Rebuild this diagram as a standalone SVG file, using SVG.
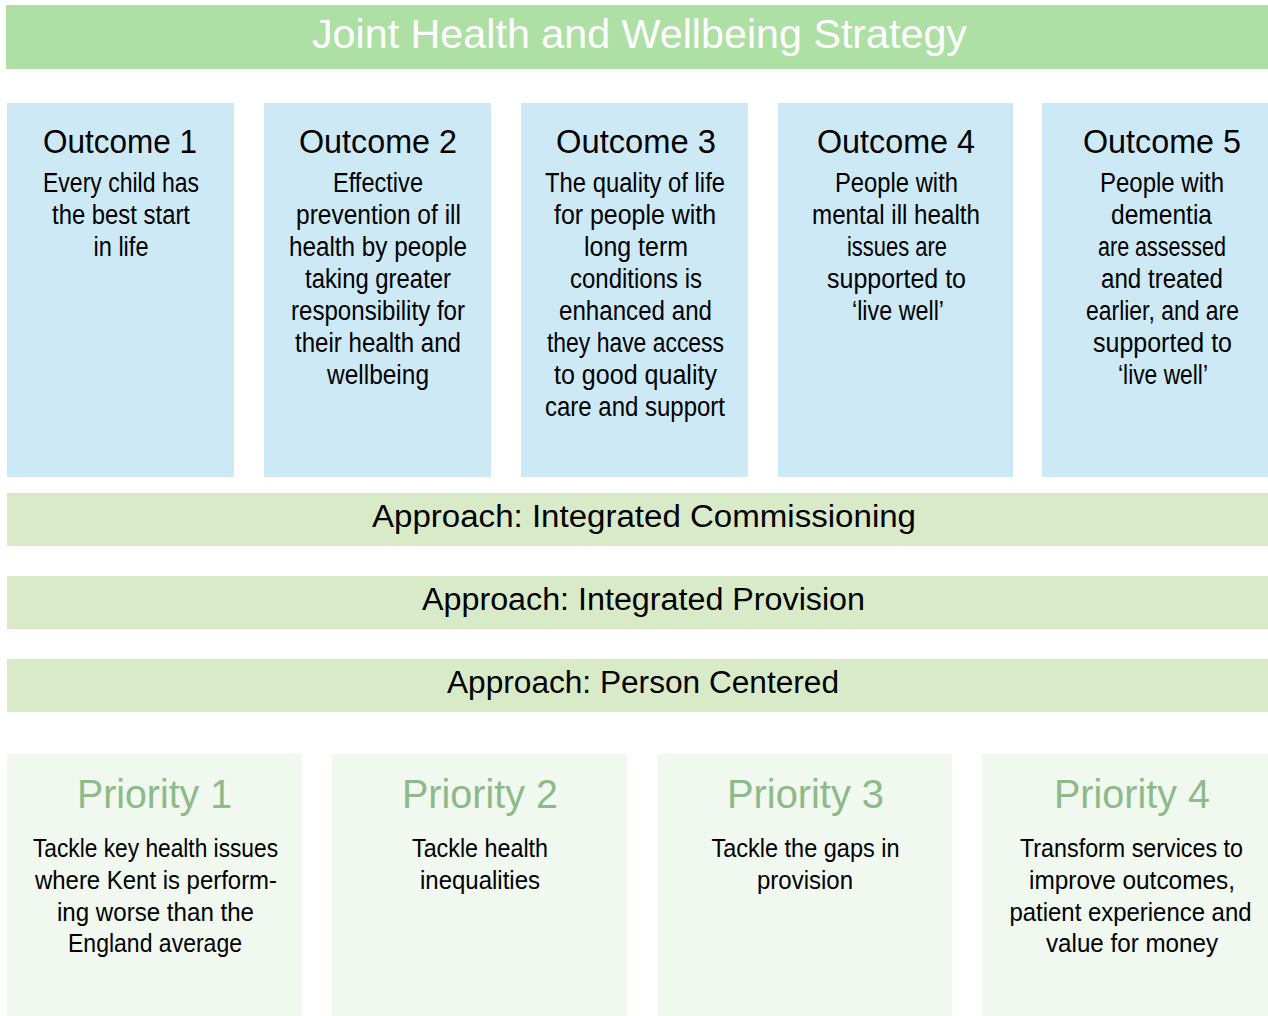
<svg xmlns="http://www.w3.org/2000/svg" width="1268" height="1016" viewBox="0 0 1268 1016">
<style>
text{font-family:"Liberation Sans",Arial,sans-serif;text-anchor:middle;}
.title{fill:#ffffff;font-size:41px;}
.oc{fill:#cde9f6;}
.ap{fill:#d9eac9;}
.pr{fill:#f0f8ef;}
.oh{fill:#000;font-size:34px;}
.ob{fill:#000;font-size:27px;}
.at{fill:#000;font-size:31px;}
.ph{fill:#8dba88;font-size:40px;}
.pb{fill:#000;font-size:26px;}
</style>
<rect width="1268" height="1016" fill="#ffffff"/>
<g id="title">
<rect x="6" y="5" width="1262" height="64" fill="#aee0a5"/>
<text class="title" x="639.5" y="48" textLength="655" lengthAdjust="spacingAndGlyphs">Joint Health and Wellbeing Strategy</text>
</g>
<g id="outcome1">
<rect class="oc" x="7" y="103" width="227" height="374"/>
<text class="oh" x="120" y="153" textLength="154" lengthAdjust="spacingAndGlyphs">Outcome  1</text>
<text class="ob" x="121" y="192" textLength="156" lengthAdjust="spacingAndGlyphs">Every child  has</text>
<text class="ob" x="121" y="224" textLength="138" lengthAdjust="spacingAndGlyphs">the best start</text>
<text class="ob" x="121" y="256" textLength="55" lengthAdjust="spacingAndGlyphs">in life</text>
</g>
<g id="outcome2">
<rect class="oc" x="264" y="103" width="227" height="374"/>
<text class="oh" x="378" y="153" textLength="158" lengthAdjust="spacingAndGlyphs">Outcome  2</text>
<text class="ob" x="378" y="192" textLength="90" lengthAdjust="spacingAndGlyphs">Effective</text>
<text class="ob" x="378.5" y="224" textLength="165" lengthAdjust="spacingAndGlyphs">prevention of ill</text>
<text class="ob" x="378" y="256" textLength="178" lengthAdjust="spacingAndGlyphs">health by people</text>
<text class="ob" x="378" y="288" textLength="146" lengthAdjust="spacingAndGlyphs">taking greater</text>
<text class="ob" x="378" y="320" textLength="174" lengthAdjust="spacingAndGlyphs">responsibility for</text>
<text class="ob" x="378" y="352" textLength="166" lengthAdjust="spacingAndGlyphs">their health and</text>
<text class="ob" x="378" y="384" textLength="102" lengthAdjust="spacingAndGlyphs">wellbeing</text>
</g>
<g id="outcome3">
<rect class="oc" x="521" y="103" width="227" height="374"/>
<text class="oh" x="636" y="153" textLength="160" lengthAdjust="spacingAndGlyphs">Outcome  3</text>
<text class="ob" x="635" y="192" textLength="180" lengthAdjust="spacingAndGlyphs">The quality  of life</text>
<text class="ob" x="635" y="224" textLength="162" lengthAdjust="spacingAndGlyphs">for people with</text>
<text class="ob" x="636" y="256" textLength="104" lengthAdjust="spacingAndGlyphs">long term</text>
<text class="ob" x="636" y="288" textLength="132" lengthAdjust="spacingAndGlyphs">conditions is</text>
<text class="ob" x="635.5" y="320" textLength="153" lengthAdjust="spacingAndGlyphs">enhanced and</text>
<text class="ob" x="635.5" y="352" textLength="177" lengthAdjust="spacingAndGlyphs">they  have  access</text>
<text class="ob" x="635.5" y="384" textLength="163" lengthAdjust="spacingAndGlyphs">to good quality</text>
<text class="ob" x="635" y="416" textLength="180" lengthAdjust="spacingAndGlyphs">care and support</text>
</g>
<g id="outcome4">
<rect class="oc" x="778" y="103" width="235" height="374"/>
<text class="oh" x="896" y="153" textLength="158" lengthAdjust="spacingAndGlyphs">Outcome  4</text>
<text class="ob" x="896.5" y="192" textLength="123" lengthAdjust="spacingAndGlyphs">People with</text>
<text class="ob" x="896" y="224" textLength="168" lengthAdjust="spacingAndGlyphs">mental ill health</text>
<text class="ob" x="897" y="256" textLength="100" lengthAdjust="spacingAndGlyphs">issues are</text>
<text class="ob" x="896.5" y="288" textLength="139" lengthAdjust="spacingAndGlyphs">supported to</text>
<text class="ob" x="898" y="320" textLength="92" lengthAdjust="spacingAndGlyphs">‘live well’</text>
</g>
<g id="outcome5">
<rect class="oc" x="1042" y="103" width="226" height="374"/>
<text class="oh" x="1162" y="153" textLength="158" lengthAdjust="spacingAndGlyphs">Outcome  5</text>
<text class="ob" x="1162" y="192" textLength="124" lengthAdjust="spacingAndGlyphs">People with</text>
<text class="ob" x="1161.5" y="224" textLength="101" lengthAdjust="spacingAndGlyphs">dementia</text>
<text class="ob" x="1162" y="256" textLength="128" lengthAdjust="spacingAndGlyphs">are assessed</text>
<text class="ob" x="1162" y="288" textLength="122" lengthAdjust="spacingAndGlyphs">and treated</text>
<text class="ob" x="1162.5" y="320" textLength="153" lengthAdjust="spacingAndGlyphs">earlier, and are</text>
<text class="ob" x="1162.5" y="352" textLength="139" lengthAdjust="spacingAndGlyphs">supported to</text>
<text class="ob" x="1163" y="384" textLength="90" lengthAdjust="spacingAndGlyphs">‘live well’</text>
</g>
<g id="approach1">
<rect class="ap" x="7" y="493" width="1261" height="53"/>
<text class="at" x="644" y="527" textLength="544" lengthAdjust="spacingAndGlyphs">Approach:  Integrated Commissioning</text>
</g>
<g id="approach2">
<rect class="ap" x="7" y="576" width="1261" height="53"/>
<text class="at" x="643.5" y="610" textLength="443" lengthAdjust="spacingAndGlyphs">Approach: Integrated Provision</text>
</g>
<g id="approach3">
<rect class="ap" x="7" y="659" width="1261" height="53"/>
<text class="at" x="643" y="693" textLength="392" lengthAdjust="spacingAndGlyphs">Approach:  Person Centered</text>
</g>
<g id="priority1">
<rect class="pr" x="7" y="754" width="295" height="262"/>
<text class="ph" x="154.5" y="808" textLength="155" lengthAdjust="spacingAndGlyphs">Priority 1</text>
<text class="pb" x="155.5" y="857" textLength="245" lengthAdjust="spacingAndGlyphs">Tackle key health  issues</text>
<text class="pb" x="156" y="889" textLength="242" lengthAdjust="spacingAndGlyphs">where  Kent is perform-</text>
<text class="pb" x="155.5" y="921" textLength="197" lengthAdjust="spacingAndGlyphs">ing worse than the</text>
<text class="pb" x="155" y="952" textLength="174" lengthAdjust="spacingAndGlyphs">England average</text>
</g>
<g id="priority2">
<rect class="pr" x="332" y="754" width="295" height="262"/>
<text class="ph" x="480" y="808" textLength="156" lengthAdjust="spacingAndGlyphs">Priority 2</text>
<text class="pb" x="480" y="857" textLength="136" lengthAdjust="spacingAndGlyphs">Tackle health</text>
<text class="pb" x="480" y="889" textLength="120" lengthAdjust="spacingAndGlyphs">inequalities</text>
</g>
<g id="priority3">
<rect class="pr" x="657" y="754" width="295" height="262"/>
<text class="ph" x="805.5" y="808" textLength="157" lengthAdjust="spacingAndGlyphs">Priority 3</text>
<text class="pb" x="805.5" y="857" textLength="188" lengthAdjust="spacingAndGlyphs">Tackle the  gaps  in</text>
<text class="pb" x="805" y="889" textLength="96" lengthAdjust="spacingAndGlyphs">provision</text>
</g>
<g id="priority4">
<rect class="pr" x="982" y="754" width="286" height="262"/>
<text class="ph" x="1132" y="808" textLength="156" lengthAdjust="spacingAndGlyphs">Priority 4</text>
<text class="pb" x="1131.5" y="857" textLength="223" lengthAdjust="spacingAndGlyphs">Transform  services to</text>
<text class="pb" x="1132" y="889" textLength="206" lengthAdjust="spacingAndGlyphs">improve outcomes,</text>
<text class="pb" x="1130.5" y="921" textLength="242" lengthAdjust="spacingAndGlyphs">patient  experience and</text>
<text class="pb" x="1132" y="952" textLength="172" lengthAdjust="spacingAndGlyphs">value for money</text>
</g>
<g id="connectors"></g>
</svg>
